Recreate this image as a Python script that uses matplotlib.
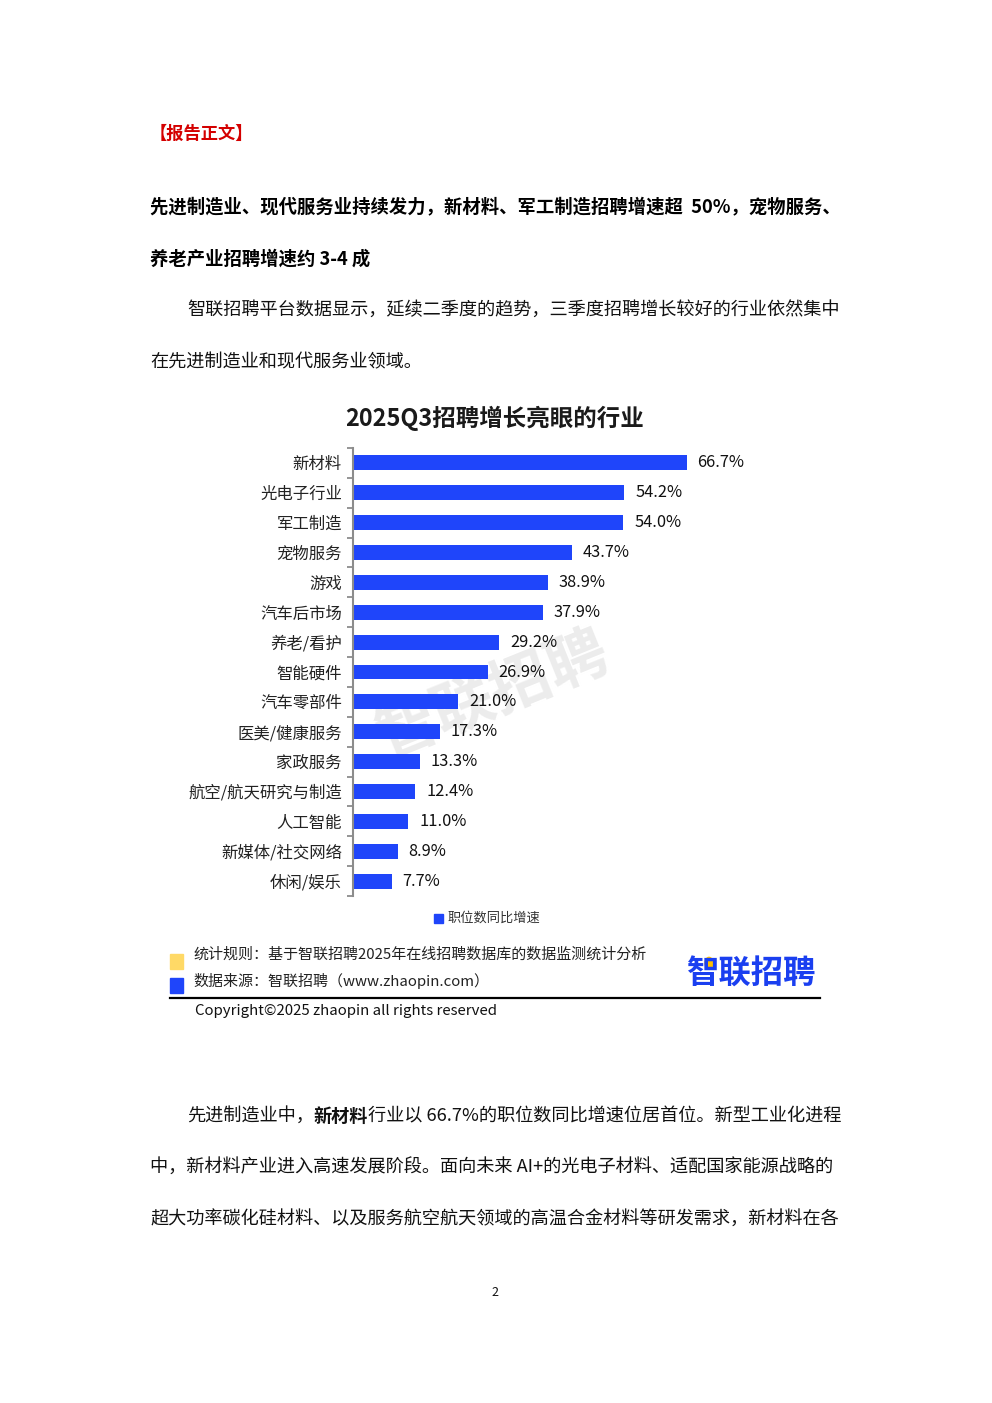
import matplotlib
matplotlib.use("Agg")
import matplotlib.pyplot as plt
import numpy as np

plt.rcParams['font.family'] = ['Noto Sans CJK SC', 'DejaVu Sans']

W, H = 992, 1403

industries = ["新材料", "光电子行业", "军工制造", "宠物服务", "游戏", "汽车后市场",
              "养老/看护", "智能硬件", "汽车零部件", "医美/健康服务", "家政服务",
              "航空/航天研究与制造", "人工智能", "新媒体/社交网络", "休闲/娱乐"]
growth = [66.7, 54.2, 54.0, 43.7, 38.9, 37.9, 29.2, 26.9, 21.0, 17.3, 13.3, 12.4, 11.0, 8.9, 7.7]

chart_title = "2025Q3招聘增长亮眼的行业"
legend_label = "职位数同比增速"

BLUE = "#1f45fa"
BODY = 13.1


def fx(px):
    return px / W


def fy(py):
    return 1 - py / H


fig = plt.figure(figsize=(W / 100, H / 100), dpi=100)
fig.patch.set_facecolor("white")

# page text
fig.text(fx(150), fy(134), "【报告正文】", color="#d40000", fontsize=12.4, fontweight="bold", va="center")
fig.text(fx(150), fy(207), "先进制造业、现代服务业持续发力，新材料、军工制造招聘增速超  50%，宠物服务、",
         color="black", fontsize=13.2, fontweight="bold", va="center")
fig.text(fx(150), fy(259), "养老产业招聘增速约 3-4 成", color="black", fontsize=13.2, fontweight="bold", va="center")
fig.text(fx(187), fy(311), "智联招聘平台数据显示，延续二季度的趋势，三季度招聘增长较好的行业依然集中",
         color="#111111", fontsize=BODY, va="center")
fig.text(fx(150), fy(362), "在先进制造业和现代服务业领域。", color="#111111", fontsize=BODY, va="center")

# watermark behind the chart
fig.text(fx(493), fy(695), "智联招聘", ha="center", va="center", fontsize=44, fontweight="bold",
         color="#ececec", rotation=22, zorder=-1)

# chart
ax = fig.add_axes([fx(353), fy(896), fx(853) - fx(353), fy(448) - fy(896)])
y = np.arange(len(industries))
bars = ax.barh(y, growth, height=0.5, color=BLUE)
ax.set_xlim(0, 100)
ax.set_ylim(len(industries) - 0.5, -0.5)
ax.set_yticks(y)
ax.set_yticklabels(industries, fontsize=11.8, color="#222222")
ax.tick_params(axis="y", which="major", length=0, pad=8)
ax.set_yticks(np.arange(-0.5, len(industries), 1.0), minor=True)
ax.tick_params(axis="y", which="minor", length=4, width=1.3, color="#8c8c8c")
ax.set_xticks([])
for s in ["top", "right", "bottom"]:
    ax.spines[s].set_visible(False)
ax.spines["left"].set_color("#8c8c8c")
ax.spines["left"].set_linewidth(1.5)
ax.bar_label(bars, labels=[f"{v:.1f}%" for v in growth], padding=8, fontsize=11.8, color="#111111")
ax.patch.set_alpha(0)

fig.text(fx(495), fy(418), chart_title, ha="center", va="center", fontsize=16.9, fontweight="bold", color="#1a1a1a")

# legend
fig.patches.append(plt.Rectangle((fx(434), fy(923)), fx(9), 9 / H, transform=fig.transFigure, color=BLUE))
fig.text(fx(448), fy(918), legend_label, fontsize=9.5, color="#333333", va="center")

# source block
fig.patches.append(plt.Rectangle((fx(170), fy(969)), fx(13), 15 / H, transform=fig.transFigure, color="#ffd966"))
fig.patches.append(plt.Rectangle((fx(170), fy(993)), fx(13), 15 / H, transform=fig.transFigure, color="#1f45fa"))
fig.text(fx(193), fy(955), "统计规则：基于智联招聘2025年在线招聘数据库的数据监测统计分析", fontsize=10.8,
         color="#222222", va="center")
fig.text(fx(193), fy(981), "数据来源：智联招聘（www.zhaopin.com）", fontsize=10.8, color="#222222", va="center")
fig.text(fx(751), fy(974), "智联招聘", ha="center", va="center", fontsize=23.3, fontweight="bold", color="#1a3ff0")
fig.patches.append(plt.Circle((fx(709), fy(963)), 4 / W, transform=fig.transFigure, color="#ffc000"))
fig.add_artist(plt.Line2D([fx(170), fx(820)], [fy(998), fy(998)], color="black", linewidth=1.6))
fig.text(fx(195), fy(1011), "Copyright©2025 zhaopin all rights reserved", fontsize=10.8, color="#111111", va="center")

# closing paragraph, mixed bold
renderer = fig.canvas.get_renderer()
x = fx(187)
for seg, wt in [("先进制造业中，", "normal"), ("新材料", "bold"),
                ("行业以 66.7%的职位数同比增速位居首位。新型工业化进程", "normal")]:
    t = fig.text(x, fy(1116), seg, fontsize=BODY, fontweight=wt, color="#111111", va="center")
    bb = t.get_window_extent(renderer)
    x += bb.width / W
fig.text(fx(150), fy(1168), "中，新材料产业进入高速发展阶段。面向未来 AI+的光电子材料、适配国家能源战略的",
         fontsize=BODY, color="#111111", va="center")
fig.text(fx(150), fy(1220), "超大功率碳化硅材料、以及服务航空航天领域的高温合金材料等研发需求，新材料在各",
         fontsize=BODY, color="#111111", va="center")
fig.text(fx(495), fy(1293), "2", fontsize=9, color="#111111", ha="center", va="center")

fig.savefig("out.png", dpi=100, facecolor="white")
